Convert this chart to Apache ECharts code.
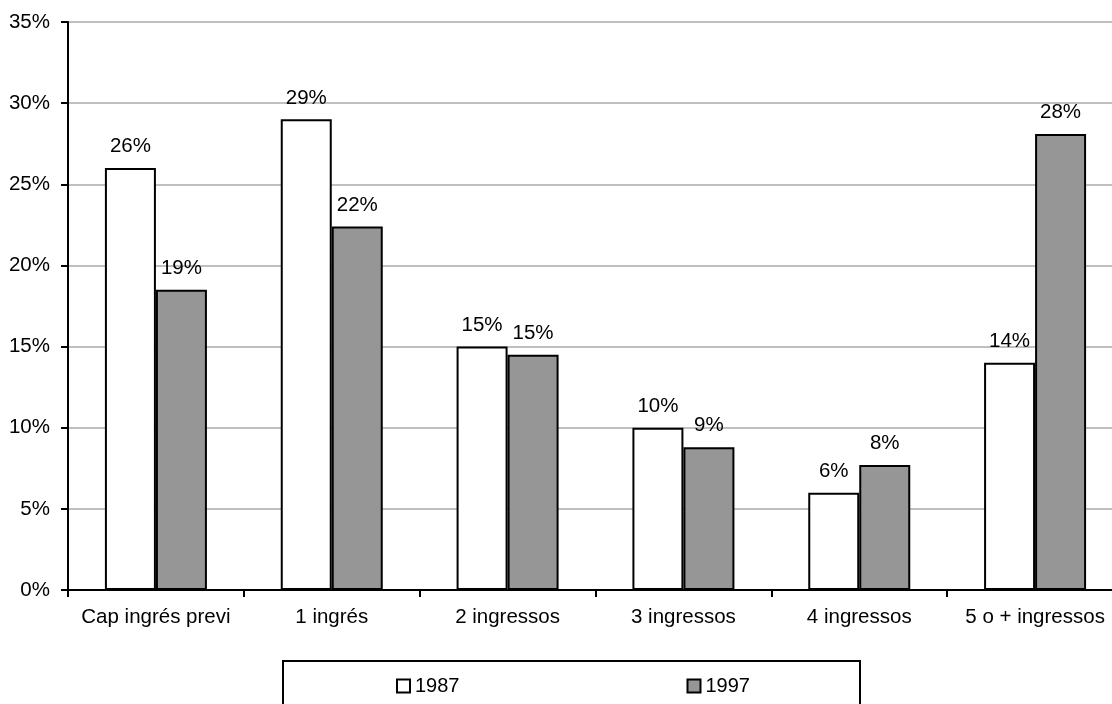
<!DOCTYPE html>
<html>
<head>
<meta charset="utf-8">
<script src="https://cdn.jsdelivr.net/npm/echarts@6/dist/echarts.min.js"></script>
<style>
html,body{margin:0;padding:0;background:#fff;}
#chart{width:1112px;height:704px;}
</style>
</head>
<body>
<div id="chart"></div>
<script>
const categories = ['Cap ingrés previ', '1 ingrés', '2 ingressos', '3 ingressos', '4 ingressos', '5 o + ingressos'];
const values1987 = [26, 29, 15, 10, 6, 14];
const values1997 = [18.5, 22.4, 14.5, 8.8, 7.7, 28.1];
const yTicks = [0, 5, 10, 15, 20, 25, 30, 35];
const seriesNames = ['1987', '1997'];

const FONT = '"Liberation Sans", Arial, sans-serif';
const FS = 20.5;
const chart = echarts.init(document.getElementById('chart'));

const labelCfg = {
  show: true,
  position: 'top',
  distance: 11,
  color: '#000',
  fontFamily: FONT,
  fontSize: FS,
  formatter: p => Math.round(p.value) + '%'
};

chart.setOption({
  animation: false,
  backgroundColor: '#fff',
  textStyle: { fontFamily: FONT },
  grid: { left: 68, right: -11, top: 22, bottom: 114, containLabel: false, outerBoundsMode: 'none' },
  graphic: [{
    type: 'rect',
    shape: { x: 283, y: 661, width: 577, height: 60 },
    style: { fill: '#fff', stroke: '#000', lineWidth: 2 },
    z: 0
  }],
  legend: {
    data: seriesNames,
    left: 396,
    top: 676,
    itemWidth: 13,
    itemHeight: 13,
    itemGap: 227,
    icon: 'rect',
    padding: 0,
    textStyle: { fontFamily: FONT, fontSize: 20, color: '#000', padding: [0, 0, 0, 0] },
    z: 5
  },
  xAxis: {
    type: 'category',
    data: categories,
    axisLine: { lineStyle: { color: '#000', width: 2 } },
    axisTick: { show: true, length: 7, lineStyle: { color: '#000', width: 2 } },
    axisLabel: { color: '#000', fontSize: FS, fontFamily: FONT, margin: 17, interval: 0 },
    splitLine: { show: false }
  },
  yAxis: {
    type: 'value',
    min: yTicks[0],
    max: yTicks[yTicks.length - 1],
    interval: 5,
    axisLine: { show: true, lineStyle: { color: '#000', width: 2 } },
    axisTick: { show: true, length: 7, lineStyle: { color: '#000', width: 2 } },
    axisLabel: { color: '#000', fontSize: FS, fontFamily: FONT, margin: 18, formatter: '{value}%' },
    splitLine: { show: true, lineStyle: { color: '#c0c0c0', width: 2 } }
  },
  series: [
    {
      name: seriesNames[0],
      type: 'bar',
      data: values1987,
      barWidth: 51,
      barGap: '0%',
      itemStyle: { color: '#ffffff', borderColor: '#000', borderWidth: 2 },
      label: labelCfg
    },
    {
      name: seriesNames[1],
      type: 'bar',
      data: values1997,
      barWidth: 51,
      barGap: '0%',
      itemStyle: { color: '#969696', borderColor: '#000', borderWidth: 2 },
      label: labelCfg
    }
  ]
});
</script>
</body>
</html>
